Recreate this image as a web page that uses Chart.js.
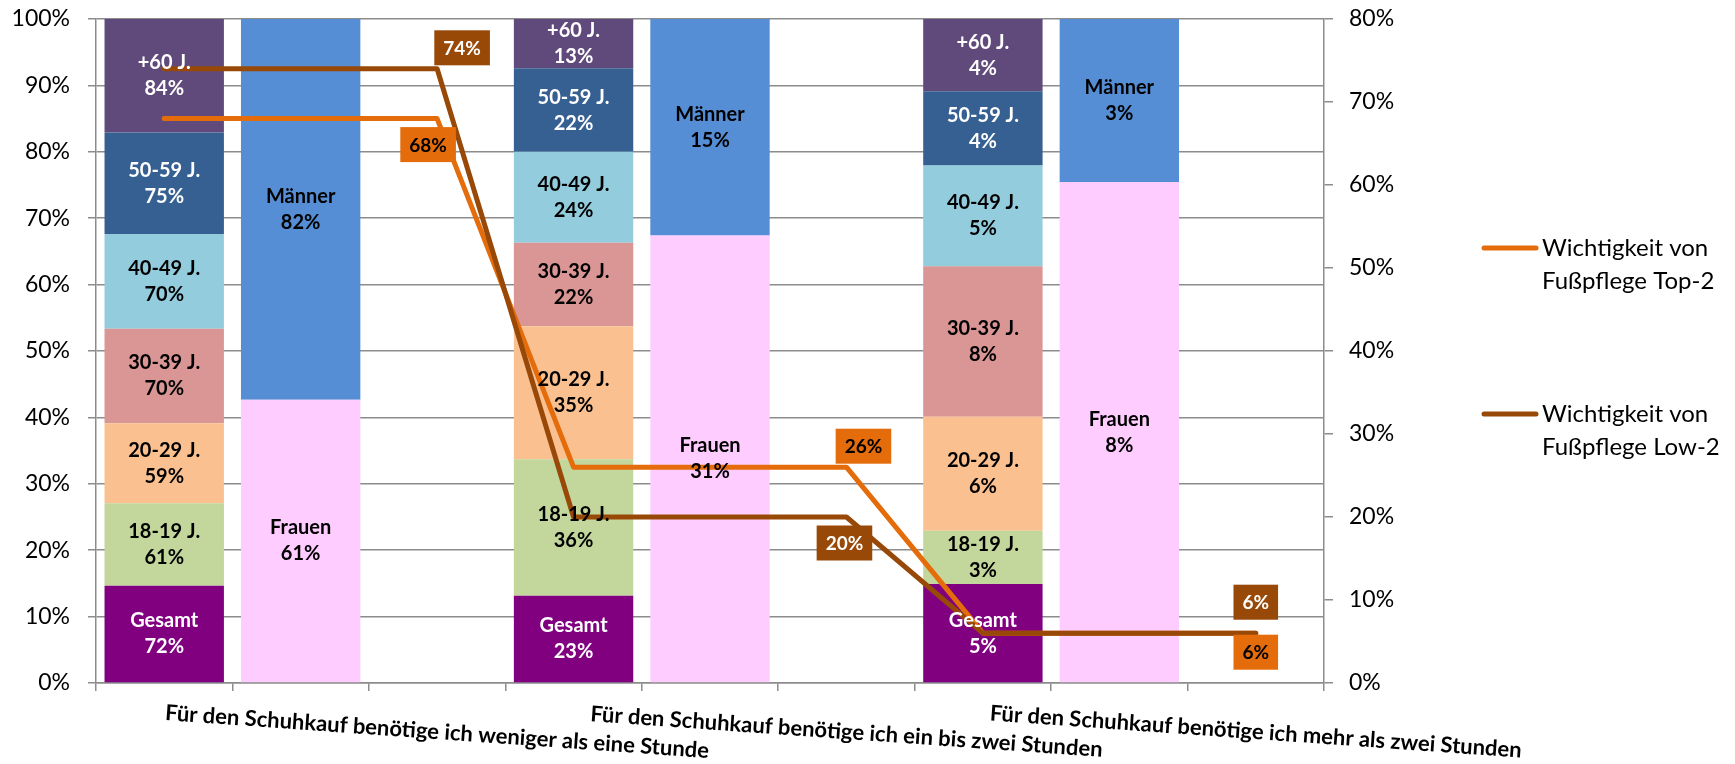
<!DOCTYPE html>
<html>
<head>
<meta charset="utf-8">
<script src="https://cdn.jsdelivr.net/npm/chart.js@4.4.1/dist/chart.umd.min.js"></script>
<style>
  html, body { margin: 0; padding: 0; background: #fff; }
</style>
</head>
<body>
<canvas id="chart" width="1735" height="764"></canvas>
<script>
// categories
const groups = [
    'Für den Schuhkauf benötige ich weniger als eine Stunde',
    'Für den Schuhkauf benötige ich ein bis zwei Stunden',
    'Für den Schuhkauf benötige ich mehr als zwei Stunden'
];
const ageNames = ['Gesamt', '18-19 J.', '20-29 J.', '30-39 J.', '40-49 J.', '50-59 J.', '+60 J.'];
const genderNames = ['Frauen', 'Männer'];
const lineNames = ['Wichtigkeit von Fußpflege Top-2', 'Wichtigkeit von Fußpflege Low-2'];

// series values (%), one per category
const gesamt = [72, 23, 5.2];
const age18 = [61, 36, 2.8];
const age20 = [59, 35, 6.0];
const age30 = [70, 22, 7.9];
const age40 = [70, 24, 5.3];
const age50 = [75, 22, 3.9];
const age60 = [84, 13, 3.8];
const frauen = [61, 31, 8.3];
const maenner = [82, 15, 2.7];
const top2 = [68, 26, 6];
const low2 = [74, 20, 6];

// axes
const leftMax = 100;
const rightMax = 80;
const tickStep = 10;

const ageSeries = [gesamt, age18, age20, age30, age40, age50, age60];
const genderSeries = [frauen, maenner];

const ageColors = ['#800080', '#C3D69B', '#FAC090', '#D99694', '#93CDDD', '#376092', '#604A7B'];
const ageText = ['#fff', '#000', '#000', '#000', '#000', '#fff', '#fff'];
const genderColors = ['#FFCCFF', '#558ED5'];
const lineColors = ['#E46C0A', '#984807'];
const lineText = ['#000', '#fff'];
const gridColor = '#8c8c8c';

// each category has 3 slots: age bar, gender bar, empty
const slotLabels = groups.flatMap(g => [g, g, g]);

function toSlot(values, pos) {
    const out = Array(slotLabels.length).fill(null);
    values.forEach((v, g) => { out[g * 3 + pos] = v; });
    return out;
}

function shares(series) {
    return series.map(vals => vals.map((v, g) => {
        const sum = series.reduce((s, arr) => s + arr[g], 0);
        return v / sum * 100;
    }));
}

function lineSlots(values) {
    const out = Array(slotLabels.length).fill(null);
    values.forEach((v, g) => { out[g * 3] = v; out[g * 3 + 2] = v; });
    return out;
}

const ageShares = shares(ageSeries);
const genderShares = shares(genderSeries);

const datasets = [];
[top2, low2].forEach((vals, i) => {
    datasets.push({
        type: 'line',
        label: lineNames[i],
        data: lineSlots(vals),
        values: vals,
        yAxisID: 'y2',
        borderColor: lineColors[i],
        backgroundColor: lineColors[i],
        textColor: lineText[i],
        borderWidth: 5,
        borderJoinStyle: 'round',
        borderCapStyle: 'round',
        pointRadius: 0,
        spanGaps: true,
        tension: 0,
        order: i === 1 ? 0 : 1
    });
});
ageSeries.forEach((vals, i) => {
    datasets.push({
        type: 'bar',
        label: ageNames[i],
        data: toSlot(ageShares[i], 0),
        values: vals,
        yAxisID: 'y',
        backgroundColor: ageColors[i],
        textColor: ageText[i],
        order: 2
    });
});
genderSeries.forEach((vals, i) => {
    datasets.push({
        type: 'bar',
        label: genderNames[i],
        data: toSlot(genderShares[i], 1),
        values: vals,
        yAxisID: 'y',
        backgroundColor: genderColors[i],
        textColor: '#000',
        order: 2
    });
});

// where the boxed line labels sit, relative to the last point of each category
const boxOffsets = [
    [[-9, 26], [17, -21], [0, 19]],
    [[25, -21], [-2, 26], [0, -31]]
];

const labelPlugin = {
    id: 'labels',
    afterDatasetsDraw(chart) {
        const ctx = chart.ctx;
        ctx.save();
        ctx.textAlign = 'center';
        ctx.textBaseline = 'middle';
        ctx.font = 'bold 20px Lato';
        chart.data.datasets.forEach((ds, i) => {
            if (ds.type !== 'bar') return;
            chart.getDatasetMeta(i).data.forEach((bar, j) => {
                if (ds.data[j] == null) return;
                const g = Math.floor(j / 3);
                const cy = (bar.y + bar.base) / 2;
                ctx.fillStyle = ds.textColor;
                ctx.fillText(ds.label, bar.x, cy - 13);
                ctx.fillText(Math.round(ds.values[g]) + '%', bar.x, cy + 13);
            });
        });
        ctx.font = 'bold 19px Lato';
        chart.data.datasets.forEach((ds, i) => {
            if (ds.type !== 'line') return;
            const meta = chart.getDatasetMeta(i);
            ds.values.forEach((v, g) => {
                const pt = meta.data[g * 3 + 2];
                const [dx, dy] = boxOffsets[i][g];
                const text = Math.round(v) + '%';
                const w = ctx.measureText(text).width + 18;
                const h = 35;
                const cx = pt.x + dx, cy = pt.y + dy;
                ctx.fillStyle = ds.borderColor;
                ctx.fillRect(cx - w / 2, cy - h / 2, w, h);
                ctx.fillStyle = ds.textColor;
                ctx.fillText(text, cx, cy + 1);
            });
        });
        ctx.restore();
    }
};

const axisLabelPlugin = {
    id: 'axisLabels',
    afterDraw(chart) {
        const ctx = chart.ctx;
        const xs = chart.scales.x;
        ctx.save();
        ctx.font = 'bold 22px Lato';
        ctx.fillStyle = '#000';
        ctx.textAlign = 'center';
        ctx.textBaseline = 'middle';
        groups.forEach((g, i) => {
            ctx.save();
            ctx.translate(xs.getPixelForValue(i * 3 + 2), 732);
            ctx.rotate(4 * Math.PI / 180);
            ctx.fillText(g, 0, 0);
            ctx.restore();
        });
        ctx.restore();
    }
};

const legendPlugin = {
    id: 'sideLegend',
    afterDraw(chart) {
        const ctx = chart.ctx;
        const lines = chart.data.datasets.filter(ds => ds.type === 'line');
        ctx.save();
        ctx.font = '24px Lato';
        ctx.textAlign = 'left';
        ctx.textBaseline = 'middle';
        lines.forEach((ds, i) => {
            const y = 248 + i * 166;
            ctx.strokeStyle = ds.borderColor;
            ctx.lineWidth = 5;
            ctx.lineCap = 'round';
            ctx.beginPath();
            ctx.moveTo(1484, y);
            ctx.lineTo(1536, y);
            ctx.stroke();
            ctx.fillStyle = '#000';
            const words = ds.label.split(' ');
            ctx.fillText(words.slice(0, 2).join(' '), 1542, y);
            ctx.fillText(words.slice(2).join(' '), 1542, y + 33);
        });
        ctx.restore();
    }
};

// keep the tick labels from pushing the plot area down
function fixY(width) {
    return s => {
        s.width = width;
        s.paddingTop = 0;
        s.paddingBottom = 0;
    };
}

Chart.defaults.font.family = 'Lato, "Open Sans", sans-serif';

new Chart(document.getElementById('chart'), {
    data: { labels: slotLabels, datasets: datasets },
    options: {
        responsive: false,
        animation: false,
        layout: { padding: { left: 0, top: 19, right: 331, bottom: 0 } },
        datasets: {
            bar: { barPercentage: 0.875, categoryPercentage: 1 }
        },
        plugins: {
            legend: { display: false },
            tooltip: { enabled: false }
        },
        scales: {
            x: {
                stacked: true,
                offset: true,
                ticks: { display: false },
                grid: { offset: true, drawOnChartArea: false, tickLength: 8, color: gridColor, lineWidth: 1.5 },
                border: { color: gridColor, width: 1.5 },
                afterFit: s => { s.height = 81; s.paddingLeft = 0; s.paddingRight = 0; }
            },
            y: {
                stacked: true,
                position: 'left',
                min: 0,
                max: leftMax,
                ticks: {
                    stepSize: tickStep,
                    padding: 18,
                    color: '#000',
                    font: { size: 23 },
                    callback: v => v + '%'
                },
                grid: { color: gridColor, lineWidth: 1.5, tickLength: 8 },
                border: { color: gridColor, width: 1.5 },
                afterFit: fixY(96)
            },
            y2: {
                position: 'right',
                min: 0,
                max: rightMax,
                ticks: {
                    stepSize: tickStep,
                    padding: 16,
                    color: '#000',
                    font: { size: 23 },
                    callback: v => v + '%'
                },
                grid: { drawOnChartArea: false, color: gridColor, lineWidth: 1.5, tickLength: 9 },
                border: { color: gridColor, width: 1.5 },
                afterFit: fixY(80)
            }
        }
    },
    plugins: [labelPlugin, axisLabelPlugin, legendPlugin]
});
</script>
</body>
</html>
